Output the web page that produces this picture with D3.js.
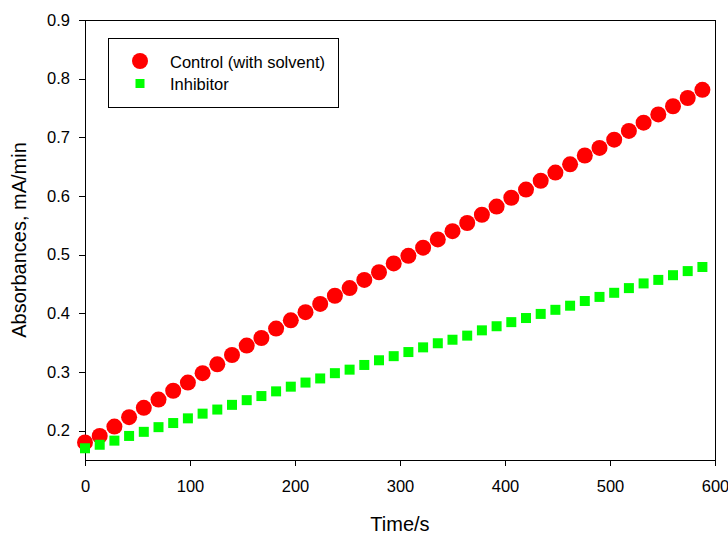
<!DOCTYPE html>
<html>
<head>
<meta charset="utf-8">
<script src="https://cdn.jsdelivr.net/npm/d3@7"></script>
<style>
body { margin: 0; background: #fff; }
text { font-family: "Liberation Sans", Arial, sans-serif; fill: #000; }
.axis path, .axis line { stroke: #000; stroke-width: 1; shape-rendering: crispEdges; }
.axis text { font-size: 16.5px; }
.frame { stroke: #000; stroke-width: 1; fill: none; shape-rendering: crispEdges; }
</style>
</head>
<body>
<script>
var width = 728,
    height = 534;

// time points (s)
var times = [0, 14, 28, 42, 56, 70, 84, 98, 112, 126, 140, 154, 168, 182, 196,
    210, 224, 238, 252, 266, 280, 294, 308, 322, 336, 350, 364, 378, 392, 406,
    420, 434, 448, 462, 476, 490, 504, 518, 532, 546, 560, 574, 588];

var control = [0.180, 0.191, 0.207, 0.223, 0.239, 0.253, 0.268, 0.282, 0.298, 0.313,
    0.329, 0.345, 0.358, 0.374, 0.388, 0.402, 0.416, 0.430, 0.443, 0.457,
    0.470, 0.485, 0.498, 0.512, 0.526, 0.540, 0.554, 0.568, 0.582, 0.597,
    0.611, 0.626, 0.640, 0.654, 0.669, 0.682, 0.696, 0.711, 0.725, 0.739,
    0.753, 0.767, 0.781];

var inhibitor = [0.170, 0.176, 0.183, 0.191, 0.198, 0.206, 0.213, 0.221, 0.229, 0.236,
    0.244, 0.252, 0.259, 0.267, 0.275, 0.282, 0.289, 0.298, 0.304, 0.312,
    0.320, 0.327, 0.334, 0.342, 0.349, 0.355, 0.362, 0.371, 0.378, 0.385,
    0.392, 0.399, 0.406, 0.413, 0.421, 0.428, 0.435, 0.443, 0.451, 0.457,
    0.465, 0.472, 0.479];

var xTicks = [0, 100, 200, 300, 400, 500, 600];
var yTicks = [0.2, 0.3, 0.4, 0.5, 0.6, 0.7, 0.8, 0.9];
var seriesNames = ['Control (with solvent)', 'Inhibitor'];

var mLeft = 85, mRight = 715, mTop = 20, mBottom = 460;

var svg = d3.select('body')
    .append('svg')
    .attr('width', width)
    .attr('height', height);

var x = d3.scaleLinear()
    .domain([0, 600])
    .range([mLeft, mRight]);

var y = d3.scaleLinear()
    .domain([0.15, 0.9])
    .range([mBottom, mTop]);

// top and right border
svg.append('path')
    .attr('class', 'frame')
    .attr('d', 'M' + mLeft + ',' + mTop + 'H' + mRight + 'V' + mBottom);

svg.append('g')
    .attr('class', 'axis')
    .attr('transform', 'translate(0,' + mBottom + ')')
    .call(d3.axisBottom(x).tickValues(xTicks).tickSize(6).tickSizeOuter(0).tickPadding(14));

svg.append('g')
    .attr('class', 'axis')
    .attr('transform', 'translate(' + mLeft + ',0)')
    .call(d3.axisLeft(y).tickValues(yTicks).tickSize(6).tickSizeOuter(0).tickPadding(9)
        .tickFormat(d3.format('.1f')));

svg.append('text')
    .attr('x', (mLeft + mRight) / 2)
    .attr('y', 531)
    .attr('text-anchor', 'middle')
    .style('font-size', '20px')
    .text('Time/s');

svg.append('text')
    .attr('transform', 'translate(26,' + (mTop + mBottom) / 2 + ') rotate(-90)')
    .attr('text-anchor', 'middle')
    .style('font-size', '20px')
    .text('Absorbances, mA/min');

var pts = times.map((t, i) => ({t: t, c: control[i], h: inhibitor[i]}));

svg.append('g')
    .selectAll('circle')
    .data(pts).enter()
    .append('circle')
    .attr('cx', d => x(d.t))
    .attr('cy', d => y(d.c))
    .attr('r', 8)
    .style('fill', '#ff0000');

var sq = 10;
svg.append('g')
    .selectAll('rect')
    .data(pts).enter()
    .append('rect')
    .attr('x', d => x(d.t) - sq / 2)
    .attr('y', d => y(d.h) - sq / 2)
    .attr('width', sq)
    .attr('height', sq)
    .style('fill', '#00ff00');

// legend
var legend = svg.append('g');
legend.append('rect')
    .attr('class', 'frame')
    .attr('x', 108.5)
    .attr('y', 38.5)
    .attr('width', 230)
    .attr('height', 69);

legend.append('circle')
    .attr('cx', 140)
    .attr('cy', 61)
    .attr('r', 8)
    .style('fill', '#ff0000');

legend.append('rect')
    .attr('x', 135.5)
    .attr('y', 79)
    .attr('width', 9)
    .attr('height', 9)
    .style('fill', '#00ff00');

legend.selectAll('text.lab')
    .data(seriesNames).enter()
    .append('text')
    .attr('class', 'lab')
    .attr('x', 170)
    .attr('y', (d, i) => 67.5 + i * 22.5)
    .style('font-size', '16.5px')
    .text(d => d);
</script>
</body>
</html>
